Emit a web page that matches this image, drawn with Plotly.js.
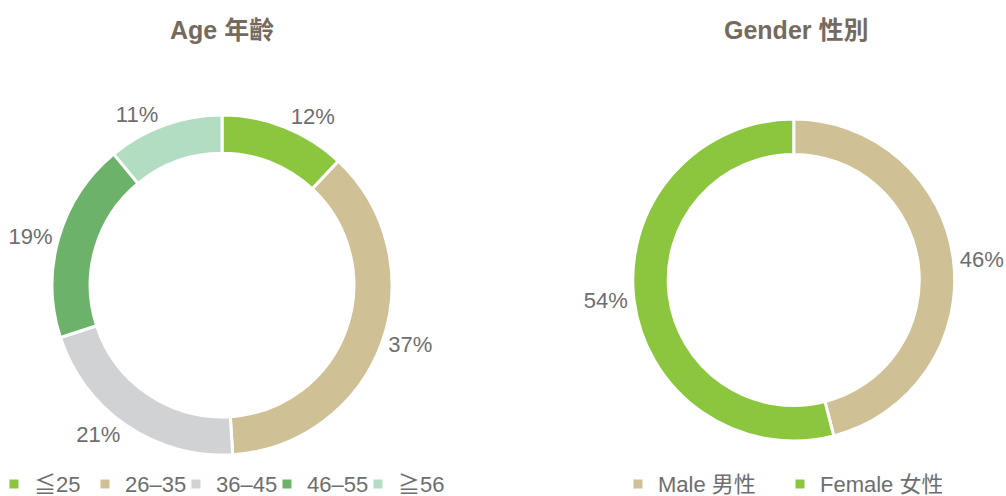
<!DOCTYPE html>
<html>
<head>
<meta charset="utf-8">
<script src="https://cdn.plot.ly/plotly-3.0.1.min.js"></script>
<style>html,body{margin:0;padding:0;background:#fff;}#chart{width:1006px;height:496px;}</style>
</head>
<body>
<div id="chart"></div>
<script>
const ageLabels = ['≦25', '26–35', '36–45', '46–55', '≧56'];
const ageValues = [12, 37, 21, 19, 11];
const ageColors = ['#8cc63f', '#cfc095', '#d1d2d4', '#6db26b', '#b3ddc3'];

const genderLabels = ['Male 男性', 'Female 女性'];
const genderValues = [46, 54];
const genderColors = ['#cfc095', '#8cc63f'];

const titles = ['Age 年齡', 'Gender 性別'];

const font = 'Liberation Sans, Noto Sans CJK TC, sans-serif';
const textColor = '#6d6e70';

const data = [
  {
    type: 'pie', labels: ageLabels, values: ageValues, sort: false, direction: 'clockwise',
    hole: 0.776, marker: {colors: ageColors, line: {color: '#ffffff', width: 3}},
    textinfo: 'percent', textposition: 'outside', texttemplate: '%{value}%',
    textfont: {family: font, size: 22, color: textColor},
    domain: {x: [0.0517, 0.3897], y: [0.0827, 0.768]},
    legend: 'legend', hoverinfo: 'skip'
  },
  {
    type: 'pie', labels: genderLabels, values: genderValues, sort: false, direction: 'clockwise',
    hole: 0.78, marker: {colors: genderColors, line: {color: '#ffffff', width: 3}},
    textinfo: 'percent', textposition: 'outside', texttemplate: '%{value}%',
    textfont: {family: font, size: 22, color: textColor},
    domain: {x: [0.629, 0.949], y: [0.111, 0.760]},
    legend: 'legend2', hoverinfo: 'skip'
  }
];

const legendCommon = {
  orientation: 'h', xanchor: 'left', yanchor: 'middle', y: 0.024,
  font: {family: font, size: 22, color: textColor}, bgcolor: 'rgba(0,0,0,0)',
  itemclick: false, itemdoubleclick: false, traceorder: 'normal'
};

const layout = {
  width: 1006, height: 496,
  margin: {l: 0, r: 0, t: 0, b: 0, autoexpand: false},
  paper_bgcolor: '#ffffff',
  font: {family: font},
  legend: Object.assign({}, legendCommon, {x: -0.006, entrywidth: 46}),
  legend2: Object.assign({}, legendCommon, {x: 0.6143, entrywidth: 117}),
  annotations: [
    {text: '<b>' + titles[0] + '</b>', x: 0.2207, y: 0.94, xref: 'paper', yref: 'paper', xanchor: 'center', yanchor: 'middle', showarrow: false, font: {family: font, size: 25, color: '#756a5d'}},
    {text: '<b>' + titles[1] + '</b>', x: 0.7913, y: 0.94, xref: 'paper', yref: 'paper', xanchor: 'center', yanchor: 'middle', showarrow: false, font: {family: font, size: 25, color: '#756a5d'}}
  ],
  showlegend: true
};

Plotly.newPlot('chart', data, layout, {displayModeBar: false, staticPlot: true});
</script>
</body>
</html>
